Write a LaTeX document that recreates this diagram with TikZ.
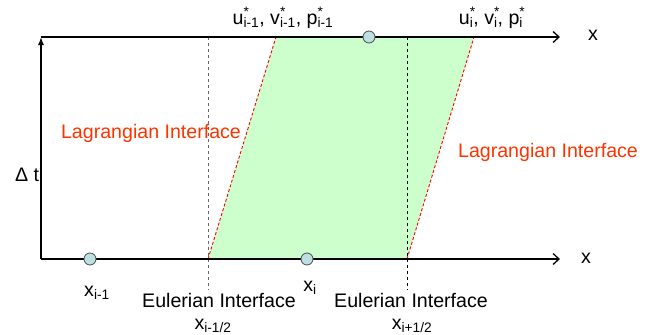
\documentclass[tikz,border=0pt]{standalone}
\usepackage{fontspec}
\setmainfont{Liberation Sans}
\usetikzlibrary{arrows.meta}
\definecolor{cellgreen}{HTML}{CCFFCC}
\definecolor{dotblue}{HTML}{BCDFE2}
\definecolor{lagred}{HTML}{FF3300}
\newcommand{\starsub}[2]{#1\rlap{\textsuperscript{*}}\textsubscript{#2}}
\begin{document}
\begin{tikzpicture}[x=1pt,y=-1pt,
  lbl/.style={inner sep=0pt,font=\fontsize{19.6}{21}\selectfont},
  redlbl/.style={lbl,text=lagred},
  axis/.style={line width=1.3pt},
  dot/.style={circle,draw=black!70,fill=dotblue,line width=0.8pt,minimum size=12pt,inner sep=0pt},
  euler/.style={dash pattern=on 3pt off 3pt,line width=1pt},
  lagr/.style={red,dash pattern=on 3pt off 2pt,line width=0.9pt}]
\useasboundingbox (0,0) rectangle (654,335);
% coordinates
\coordinate (o) at (41,259);
\coordinate (tl) at (41,37);
\coordinate (bend) at (560,259);
\coordinate (tend) at (560,37);
\coordinate (bl) at (208,259);
\coordinate (br) at (407,259);
\coordinate (tlp) at (276,37);
\coordinate (trp) at (474,37);
\coordinate (el) at (208,290);
\coordinate (er) at (407,290);
\coordinate (elt) at (208,37);
\coordinate (ert) at (407,37);
% green cell
\fill[cellgreen] (bl) -- (br) -- (trp) -- (tlp) -- cycle;
% eulerian dashed lines
\draw[euler,black!60] (elt) -- (el);
\draw[euler,black] (ert) -- (er);
% lagrangian dashed edges
\draw[lagr] (bl) -- (tlp);
\draw[lagr] (br) -- (trp);
% axes
\draw[axis,-{Straight Barb[length=6pt,width=11pt]}] (tl) -- (tend);
\draw[axis,-{Straight Barb[length=6pt,width=11pt]}] (o) -- (bend);
\draw[axis,-{Latex[length=8pt,width=6pt]}] (o) -- (tl);
% dots
\node[dot] (d1) at (369,37) {};
\node[dot] (d2) at (90,259) {};
\node[dot] (d3) at (307,259) {};
% labels
\node[lbl] (xt) at (593,35) {x};
\node[lbl] (xb) at (586,258) {x};
\node[lbl] (dt) at (27,175) {Δ t};
\node[lbl,anchor=base] (ul) at (283,24) {\starsub{u}{i-1}, \starsub{v}{i-1}, \starsub{p}{i-1}};
\node[lbl,anchor=base] (ur) at (491,24) {\starsub{u}{i}, \starsub{v}{i}, \starsub{p}{i}};
\node[redlbl] (lagl) at (151,133) {Lagrangian Interface};
\node[redlbl] (lagr) at (548,152) {Lagrangian Interface};
\node[lbl,anchor=base] (xim) at (97,296) {x\textsubscript{i-1}};
\node[lbl,anchor=base] (xi) at (310,291) {x\textsubscript{i}};
\node[lbl] (eul) at (219,300) {Eulerian Interface};
\node[lbl] (eur) at (411,300) {Eulerian Interface};
\node[lbl,anchor=base] (xh1) at (213,329) {x\textsubscript{i-1/2}};
\node[lbl,anchor=base] (xh2) at (412,329) {x\textsubscript{i+1/2}};
\end{tikzpicture}
\end{document}
